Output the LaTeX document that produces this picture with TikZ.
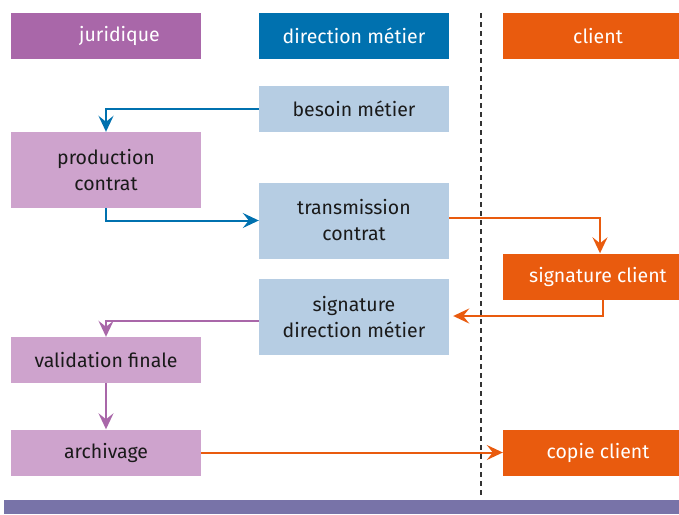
\documentclass[tikz,border=0pt]{standalone}
\usepackage{fontspec}
\setmainfont{Fira Sans}
\usetikzlibrary{arrows.meta}

\definecolor{jurcol}{HTML}{A967A9}
\definecolor{dircol}{HTML}{0071AF}
\definecolor{clicol}{HTML}{E95B0E}
\definecolor{jurlight}{HTML}{CEA3CD}
\definecolor{dirlight}{HTML}{B6CDE3}
\definecolor{barcol}{HTML}{7873A8}
\definecolor{txtcol}{HTML}{1A1A1A}

\begin{document}
\begin{tikzpicture}[x=1pt,y=-1pt,
  box/.style={minimum width=190pt, minimum height=46pt, inner sep=0pt, align=center,
    text=txtcol, font=\fontsize{19.5}{26}\selectfont},
  tall/.style={minimum height=76pt},
  head/.style={box, text=white},
  flow/.style={line width=2pt, ->, >={Stealth[length=16pt,width=15pt,inset=6pt]}}
]
\useasboundingbox (0,0) rectangle (679,514);

% column headers
\node[head, fill=jurcol] (hjur) at (105.5,36) {\hspace*{28pt}juridique};
\node[head, fill=dircol] (hdir) at (354,36) {direction métier};
\node[head, fill=clicol] (hcli) at (598,36) {client};

% separator and bottom bar
\draw[black!80, line width=1.4pt, dash pattern=on 5pt off 4pt] (481,13) -- (481,495);
\fill[barcol] (4,500) rectangle (679,514);

% steps
\node[box, fill=dirlight] (besoin) at (354,109) {besoin métier};
\node[box, tall, fill=jurlight] (prod) at (106,170) {production\\contrat};
\node[box, tall, fill=dirlight] (trans) at (354,220.5) {transmission\\contrat};
\node[box, fill=clicol, text=white] (sigcli) at (598,276.5) {signature client};
\node[box, tall, fill=dirlight] (sigdir) at (354,317) {signature\\direction métier};
\node[box, fill=jurlight] (valid) at (106,360) {validation finale};
\node[box, fill=jurlight] (archiv) at (106,452.5) {archivage};
\node[box, fill=clicol, text=white] (copie) at (598,452.5) {copie client};

% connectors
\draw[flow, dircol] (besoin.west) -| (prod.north);
\draw[flow, dircol] (prod.south) |- (trans.west);
\draw[flow, clicol] ([yshift=3pt]trans.east) -| ([xshift=2pt]sigcli.north);
\draw[flow, clicol] ([xshift=5pt]sigcli.south) |- ([xshift=4pt,yshift=1pt]sigdir.east);
\draw[flow, jurcol] ([yshift=-4pt]sigdir.west) -| (valid.north);
\draw[flow, jurcol] (valid.south) -- (archiv.north);
\draw[flow, clicol] (archiv.east) -- (copie.west);
\end{tikzpicture}
\end{document}
